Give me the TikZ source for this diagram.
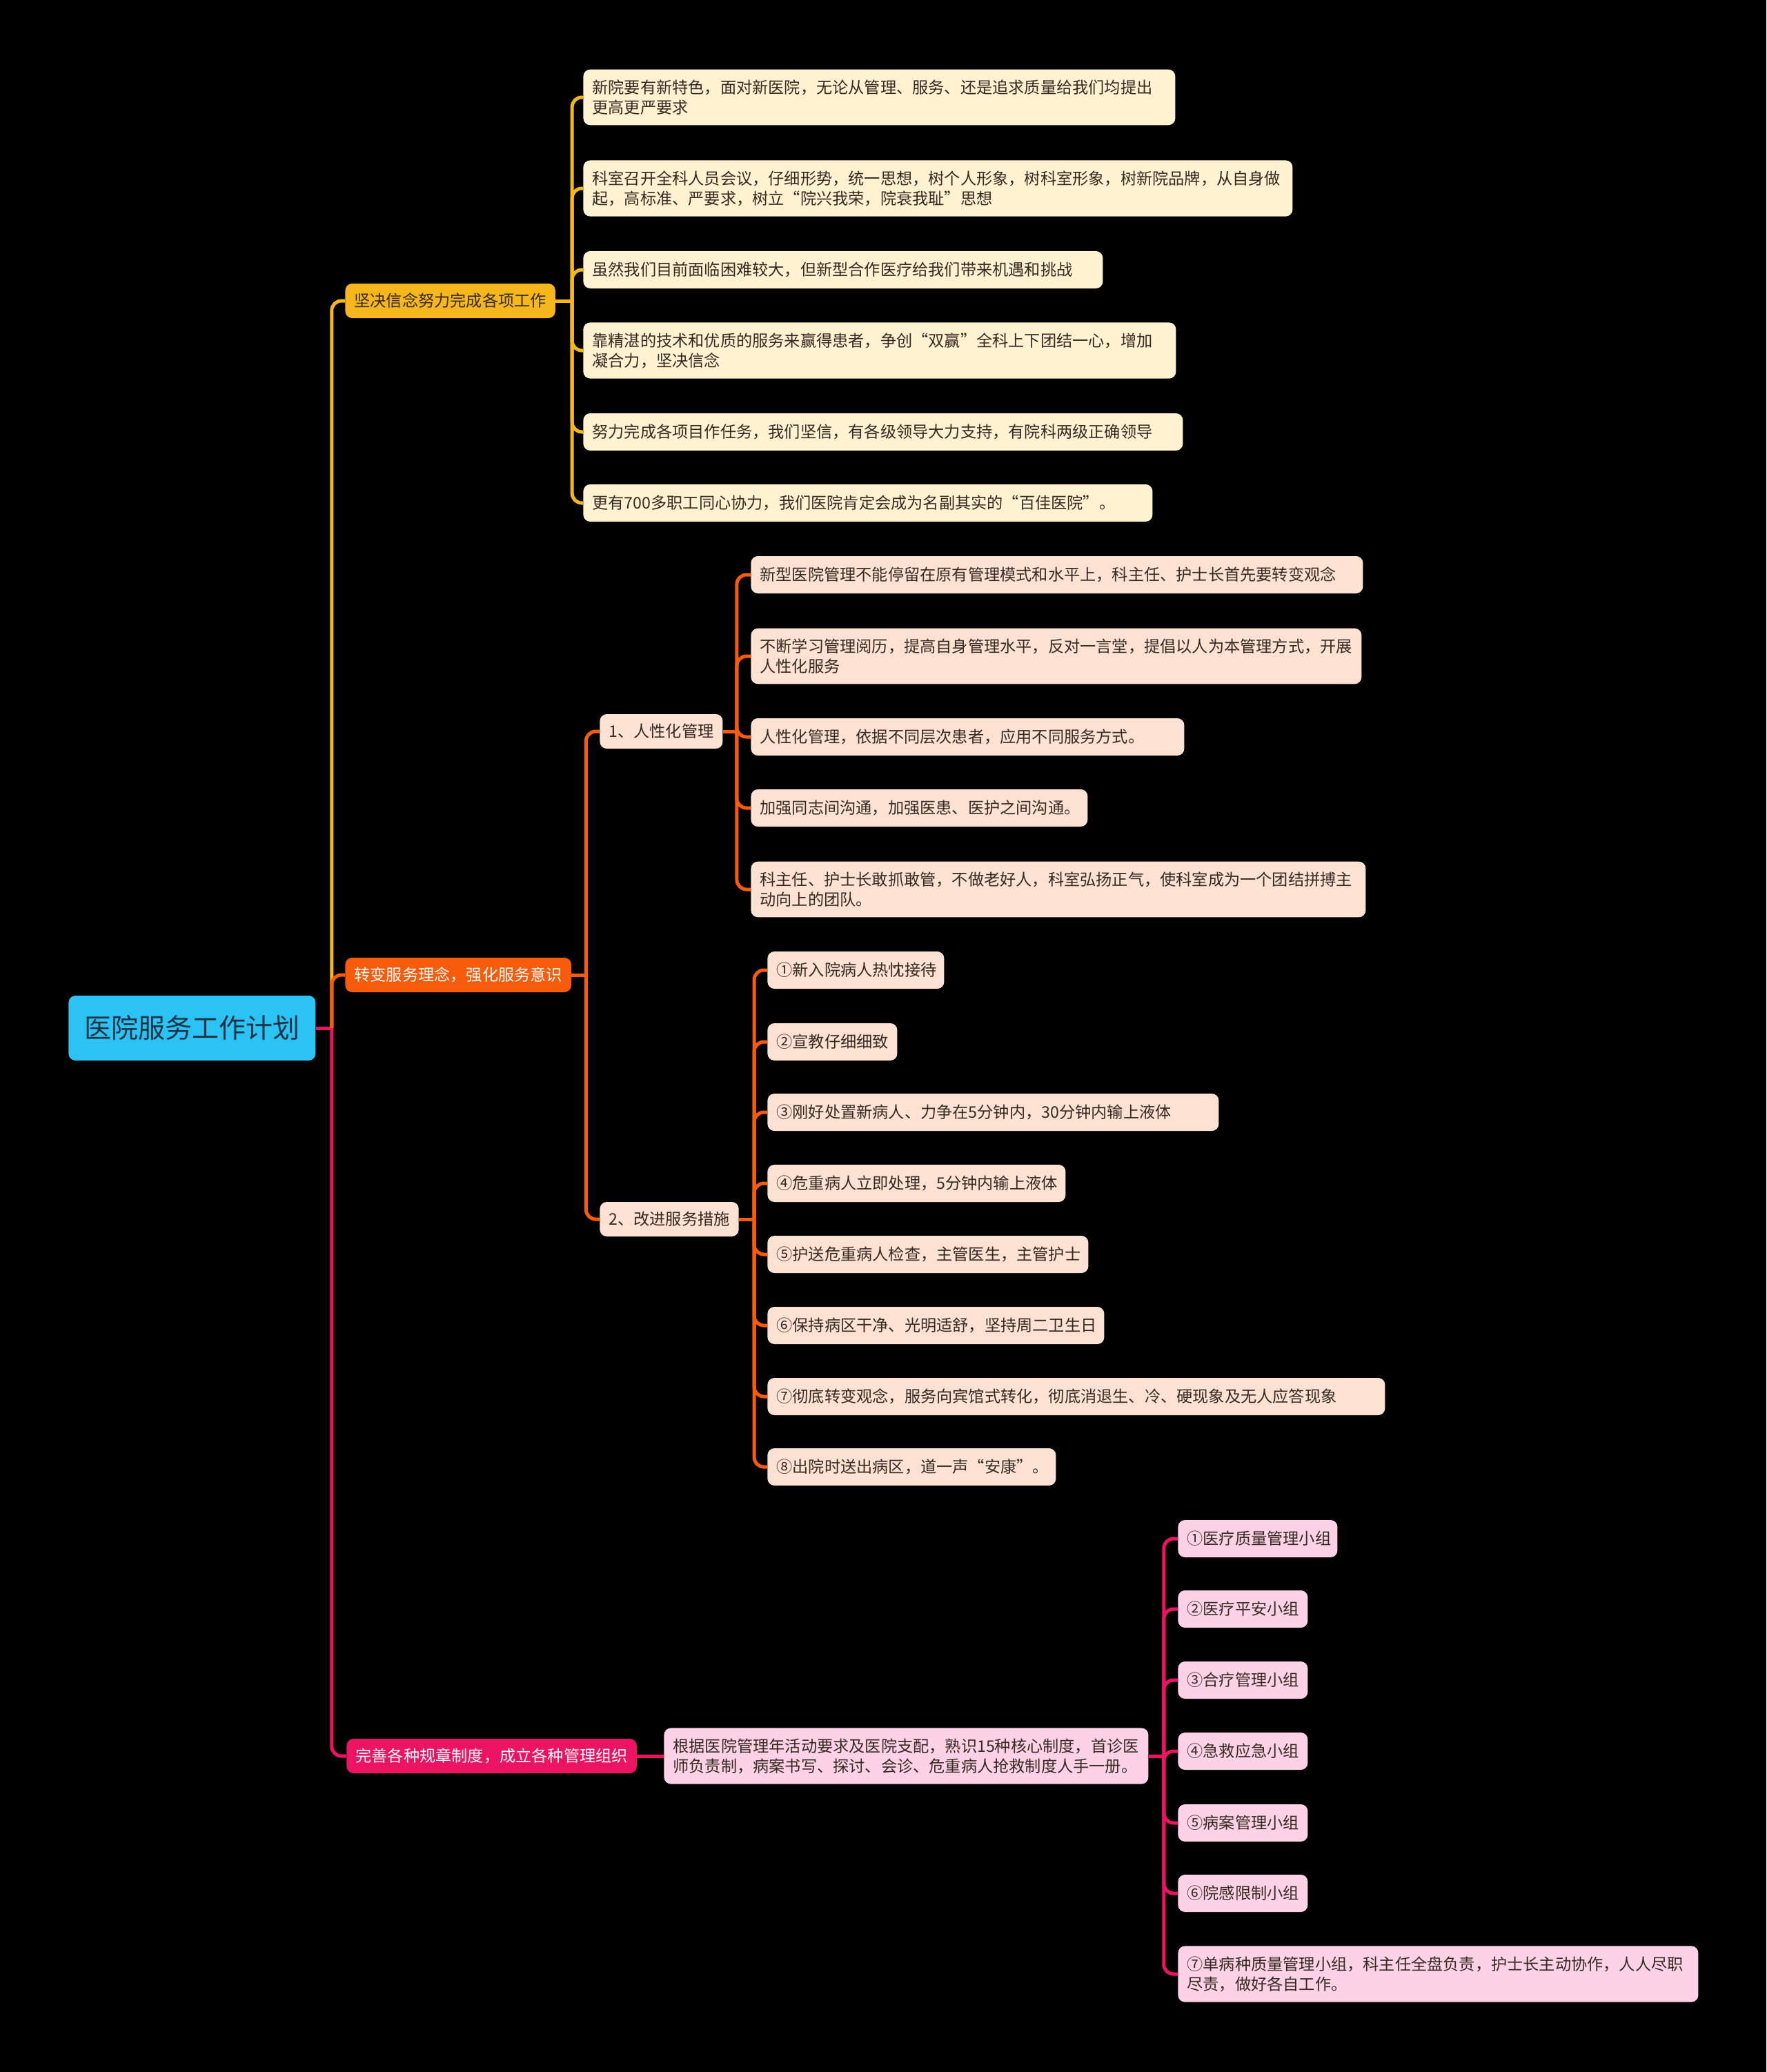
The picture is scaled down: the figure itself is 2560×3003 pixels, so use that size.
\documentclass[tikz,border=0pt]{standalone}
\usepackage{fontspec}
\setmainfont{Noto Sans CJK SC}
\usepackage{xcolor}
\usepackage{tikz}
\usetikzlibrary{positioning}
\definecolor{skyblue}{RGB}{43,195,243}
\definecolor{rootink}{RGB}{28,52,69}
\definecolor{ink}{RGB}{52,42,34}
\definecolor{mgold}{RGB}{246,183,29}
\definecolor{mtangerine}{RGB}{246,92,12}
\definecolor{mrose}{RGB}{235,19,98}
\definecolor{cream}{RGB}{254,242,208}
\definecolor{peach}{RGB}{253,225,211}
\definecolor{blush}{RGB}{253,210,230}
\tikzstyle{rt}=[%
      rectangle, rounded corners=5pt, fill=skyblue, text=rootink, anchor=west,
      minimum width=179pt, minimum height=47pt, inner sep=0pt,
      font=\fontsize{19.5pt}{23pt}\selectfont
]
\tikzstyle{br}=[%
      rectangle, rounded corners=5pt, anchor=west, inner xsep=6.5pt, minimum height=25pt,
      font=\fontsize{11.6pt}{14.5pt}\selectfont
]
\tikzstyle{lf}=[%
      rectangle, rounded corners=5pt, anchor=west, inner xsep=6.5pt, inner ysep=7.5pt,
      minimum height=27pt, align=left, text=ink, font=\fontsize{11.6pt}{14.5pt}\selectfont
]
\tikzstyle{cn}=[%
      line width=2.5pt, rounded corners=7pt, to path={|- (\tikztotarget)}
]

\begin{document}
\begin{tikzpicture}[x=0.5pt, y=-0.5pt]
    \useasboundingbox (0,0) rectangle (2560,3003);
    \fill[black] (0,0) rectangle (2560,3003);

    \node[rt] (r) at (99,1490) {医院服务工作计划};
    \node[br, fill=mgold, text=ink]          (b1) at (500,436)  {坚决信念努力完成各项工作};
    \node[br, fill=mtangerine, text=white]   (b2) at (500,1413) {转变服务理念，强化服务意识};
    \node[br, fill=mrose, text=white]        (b3) at (502,2545) {完善各种规章制度，成立各种管理组织};

    % branch 1
    \node[lf, fill=cream, text width=416pt]   (a1) at (845,141) {新院要有新特色，面对新医院，无论从管理、服务、还是追求质量给我们均提出\\更高更严要求};
    \node[lf, fill=cream, text width=501pt]   (a2) at (845,273) {科室召开全科人员会议，仔细形势，统一思想，树个人形象，树科室形象，树新院品牌，从自身做\\起，高标准、严要求，树立“院兴我荣，院衰我耻”思想};
    \node[lf, fill=cream, text width=363.5pt] (a3) at (845,391) {虽然我们目前面临困难较大，但新型合作医疗给我们带来机遇和挑战};
    \node[lf, fill=cream, text width=416.5pt] (a4) at (845,508) {靠精湛的技术和优质的服务来赢得患者，争创“双赢”全科上下团结一心，增加\\凝合力，坚决信念};
    \node[lf, fill=cream, text width=421.5pt] (a5) at (845,626) {努力完成各项目作任务，我们坚信，有各级领导大力支持，有院科两级正确领导};
    \node[lf, fill=cream, text width=399.5pt] (a6) at (845,729) {更有700多职工同心协力，我们医院肯定会成为名副其实的“百佳医院”。};

    % branch 2
    \node[br, fill=peach, text=ink] (s1) at (869,1060) {1、人性化管理};
    \node[br, fill=peach, text=ink] (s2) at (869,1767) {2、改进服务措施};

    \node[lf, fill=peach, text width=430.5pt] (m1) at (1088,833)  {新型医院管理不能停留在原有管理模式和水平上，科主任、护士长首先要转变观念};
    \node[lf, fill=peach, text width=429.5pt] (m2) at (1088,951)  {不断学习管理阅历，提高自身管理水平，反对一言堂，提倡以人为本管理方式，开展\\人性化服务};
    \node[lf, fill=peach, text width=301pt]   (m3) at (1088,1068) {人性化管理，依据不同层次患者，应用不同服务方式。};
    \node[lf, fill=peach, text width=231pt]   (m4) at (1088,1171) {加强同志间沟通，加强医患、医护之间沟通。};
    \node[lf, fill=peach, text width=432.5pt] (m5) at (1088,1289) {科主任、护士长敢抓敢管，不做老好人，科室弘扬正气，使科室成为一个团结拼搏主\\动向上的团队。};

    \node[lf, fill=peach, text width=115pt]   (n1) at (1112,1406) {①新入院病人热忱接待};
    \node[lf, fill=peach, text width=81pt]    (n2) at (1112,1510) {②宣教仔细细致};
    \node[lf, fill=peach, text width=314pt]   (n3) at (1112,1612) {③刚好处置新病人、力争在5分钟内，30分钟内输上液体};
    \node[lf, fill=peach, text width=203pt]   (n4) at (1112,1715) {④危重病人立即处理，5分钟内输上液体};
    \node[lf, fill=peach, text width=219.5pt] (n5) at (1112,1818) {⑤护送危重病人检查，主管医生，主管护士};
    \node[lf, fill=peach, text width=231pt]   (n6) at (1112,1921) {⑥保持病区干净、光明适舒，坚持周二卫生日};
    \node[lf, fill=peach, text width=434.5pt] (n7) at (1112,2024) {⑦彻底转变观念，服务向宾馆式转化，彻底消退生、冷、硬现象及无人应答现象};
    \node[lf, fill=peach, text width=196pt]   (n8) at (1112,2126) {⑧出院时送出病区，道一声“安康”。};

    % branch 3
    \node[lf, fill=blush, text width=338pt]   (p)  at (962,2545)  {根据医院管理年活动要求及医院支配，熟识15种核心制度，首诊医\\师负责制，病案书写、探讨、会诊、危重病人抢救制度人手一册。};

    \node[lf, fill=blush, text width=102.5pt] (q1) at (1707,2230) {①医疗质量管理小组};
    \node[lf, fill=blush, text width=81pt]    (q2) at (1707,2332) {②医疗平安小组};
    \node[lf, fill=blush, text width=81pt]    (q3) at (1707,2435) {③合疗管理小组};
    \node[lf, fill=blush, text width=81pt]    (q4) at (1707,2538) {④急救应急小组};
    \node[lf, fill=blush, text width=81pt]    (q5) at (1707,2642) {⑤病案管理小组};
    \node[lf, fill=blush, text width=81pt]    (q6) at (1707,2744) {⑥院感限制小组};
    \node[lf, fill=blush, text width=364pt]   (q7) at (1707,2861) {⑦单病种质量管理小组，科主任全盘负责，护士长主动协作，人人尽职\\尽责，做好各自工作。};

    % junctions
    \coordinate[right=11.5pt of r]  (j0);
    \coordinate[right=12pt of b1]   (j1);
    \coordinate[right=10.5pt of b2] (j2);
    \coordinate[right=10pt of s1]   (j3);
    \coordinate[right=11pt of s2]   (j4);
    \coordinate[right=11pt of p]    (j5);

    \draw[cn, mrose] (r.east) -- (j0);
    \path (j0) edge[cn, draw=mgold] (b1.west)
          (j0) edge[cn, draw=mtangerine] (b2.west)
          (j0) edge[cn, draw=mrose] (b3.west);

    \draw[cn, mgold] (b1.east) -- (j1);
    \path (j1) edge[cn, draw=mgold] (a1.west)
          (j1) edge[cn, draw=mgold] (a2.west)
          (j1) edge[cn, draw=mgold] (a3.west)
          (j1) edge[cn, draw=mgold] (a4.west)
          (j1) edge[cn, draw=mgold] (a5.west)
          (j1) edge[cn, draw=mgold] (a6.west);

    \draw[cn, mtangerine] (b2.east) -- (j2);
    \path (j2) edge[cn, draw=mtangerine] (s1.west)
          (j2) edge[cn, draw=mtangerine] (s2.west);

    \draw[cn, mtangerine] (s1.east) -- (j3);
    \path (j3) edge[cn, draw=mtangerine] (m1.west)
          (j3) edge[cn, draw=mtangerine] (m2.west)
          (j3) edge[cn, draw=mtangerine] (m3.west)
          (j3) edge[cn, draw=mtangerine] (m4.west)
          (j3) edge[cn, draw=mtangerine] (m5.west);

    \draw[cn, mtangerine] (s2.east) -- (j4);
    \path (j4) edge[cn, draw=mtangerine] (n1.west)
          (j4) edge[cn, draw=mtangerine] (n2.west)
          (j4) edge[cn, draw=mtangerine] (n3.west)
          (j4) edge[cn, draw=mtangerine] (n4.west)
          (j4) edge[cn, draw=mtangerine] (n5.west)
          (j4) edge[cn, draw=mtangerine] (n6.west)
          (j4) edge[cn, draw=mtangerine] (n7.west)
          (j4) edge[cn, draw=mtangerine] (n8.west);

    \draw[cn, mrose] (b3.east) -- (p.west);
    \draw[cn, mrose] (p.east) -- (j5);
    \path (j5) edge[cn, draw=mrose] (q1.west)
          (j5) edge[cn, draw=mrose] (q2.west)
          (j5) edge[cn, draw=mrose] (q3.west)
          (j5) edge[cn, draw=mrose] (q4.west)
          (j5) edge[cn, draw=mrose] (q5.west)
          (j5) edge[cn, draw=mrose] (q6.west)
          (j5) edge[cn, draw=mrose] (q7.west);
\end{tikzpicture}
\end{document}
